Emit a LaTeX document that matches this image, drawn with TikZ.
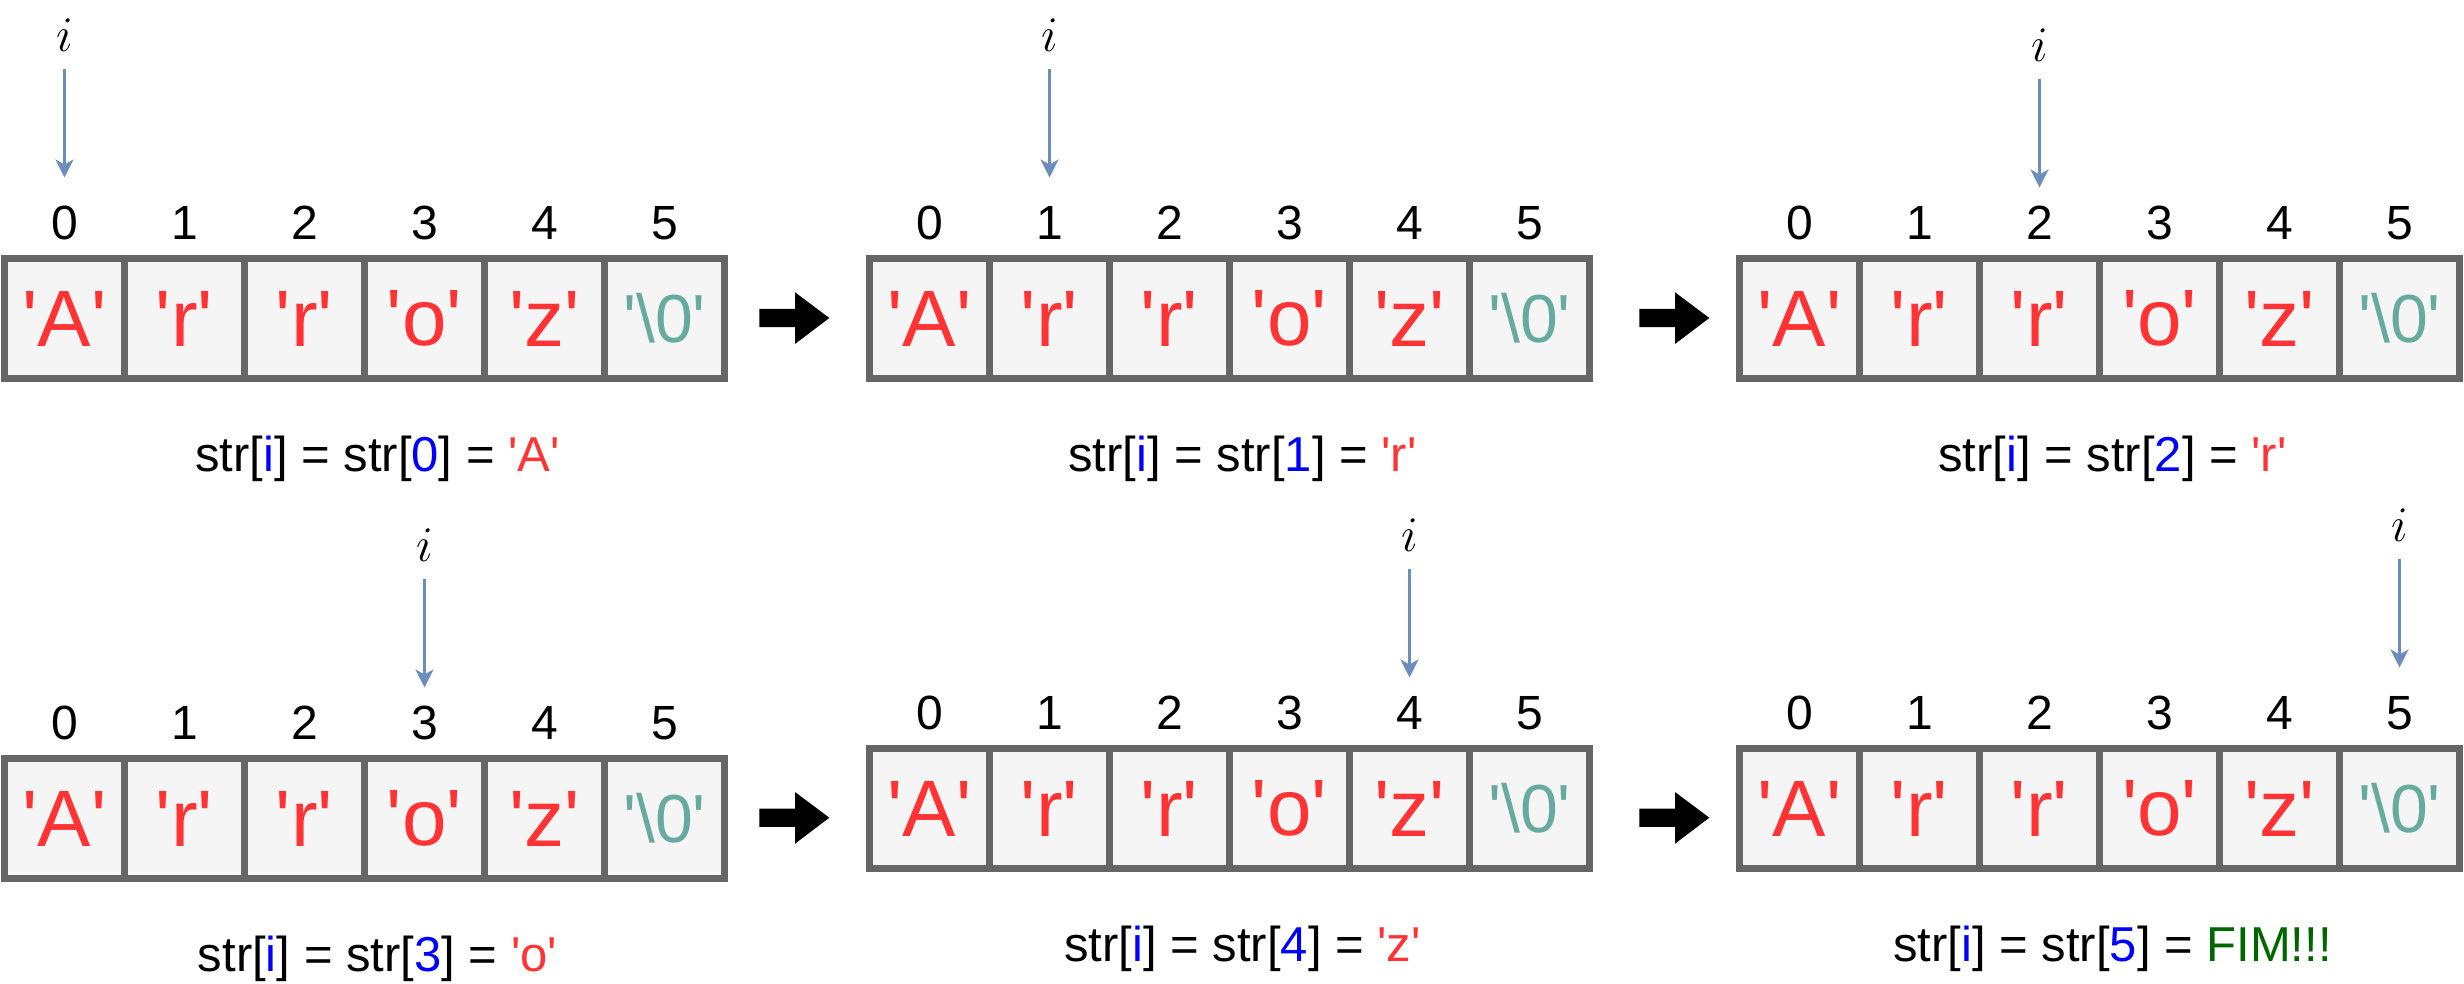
\documentclass[tikz,border=0pt]{standalone}
\usepackage{fontspec}
\setmainfont{Liberation Sans}[Ligatures=TeXOff]
\usetikzlibrary{arrows.meta}
\definecolor{cellred}{HTML}{FF3333}
\definecolor{cellteal}{HTML}{67AB9F}
\definecolor{idxblue}{HTML}{0000FF}
\definecolor{fimgreen}{HTML}{006600}
\definecolor{cellborder}{HTML}{666666}
\definecolor{cellfill}{HTML}{F5F5F5}
\definecolor{ptrblue}{HTML}{6C8EBF}
\newcommand\cellfont{\fontsize{40pt}{48pt}\selectfont}
\newcommand\termfont{\fontsize{34pt}{40pt}\selectfont}
\newcommand\idxfont{\fontsize{24pt}{28pt}\selectfont}
\newcommand\strfont{\fontsize{24.5pt}{28pt}\selectfont}
\newcommand\ifont{\fontsize{28pt}{32pt}\selectfont}
\newcommand\bl[1]{\textcolor{idxblue}{#1}}
\tikzset{
  cellbox/.style={draw=cellborder, fill=cellfill, line width=3.75pt,
    minimum width=60pt, minimum height=60pt, inner sep=0pt, outer sep=0pt},
  idxlabel/.style={anchor=base, inner sep=0pt, font=\idxfont, text=black},
  ilabel/.style={anchor=base, inner sep=0pt, font=\ifont, text=black},
  strlabel/.style={anchor=base, inner sep=0pt, font=\strfont, text=black},
  ptr/.style={draw=ptrblue, line width=1.5pt, shorten <=8.3pt,
    -{Stealth[length=9pt,width=9pt,inset=2.5pt]}},
  blockarrow/.style={fill=black, draw=none}
}
% #1 name, #2 left x, #3 top y, #4 pointer cell, #5 tip gap, #6 result
\newcommand\strpanel[6]{%
  \foreach \k/\ch in {0/A,1/r,2/r,3/o,4/z}{%
    \node[cellbox, font=\cellfont, text=cellred] (#1c\k) at ({#2+60+120*\k},{#3+60}) {'\ch'};
    \node[idxlabel] (#1n\k) at ({#2+60+120*\k},{#3-19}) {\k};
  }
  \node[cellbox, font=\termfont, text=cellteal] (#1c5) at ({#2+660},{#3+60}) {'\textbackslash0'};
  \node[idxlabel] (#1n5) at ({#2+660},{#3-19}) {5};
  \node[ilabel] (#1i) at ({#2+60+120*#4},{#3-#5-109-16.6}) {$i$};
  \coordinate (#1a) at ({#2+60+120*#4},{#3-#5});
  \draw[ptr] (#1i) -- (#1a);
  \node[strlabel] (#1s) at ({#2+373},{#3+213}) {str[\bl{i}] = str[\bl{#4}] = #6};
}
\newcommand\blockarrow[2]{%
  \coordinate (#1) at #2;
  \fill[blockarrow] (#1) ++(0,-9.2) -- ++(35.7,0) -- ++(0,-16.5) -- ++(34.3,25.7)
    -- ++(-34.3,26) -- ++(0,-16.8) -- ++(-35.7,0) -- cycle;
}
\begin{document}
\begin{tikzpicture}[x=0.5pt,y=-0.5pt]
\useasboundingbox (0,0) rectangle (2464,984);
\strpanel{pa}{4.5}{258.5}{0}{81}{\textcolor{cellred}{'A'}}
\strpanel{pb}{869.5}{258.5}{1}{81}{\textcolor{cellred}{'r'}}
\strpanel{pc}{1739.5}{258.5}{2}{71}{\textcolor{cellred}{'r'}}
\strpanel{pd}{4.5}{758.5}{3}{71}{\textcolor{cellred}{'o'}}
\strpanel{pe}{869.5}{748.5}{4}{71}{\textcolor{cellred}{'z'}}
\strpanel{pf}{1739.5}{748.5}{5}{81}{\textcolor{fimgreen}{FIM!!!}}
\blockarrow{arA}{(759.3,318)}
\blockarrow{arB}{(1639.3,318)}
\blockarrow{arC}{(759.3,817.7)}
\blockarrow{arD}{(1639.3,817.7)}
\end{tikzpicture}
\end{document}
